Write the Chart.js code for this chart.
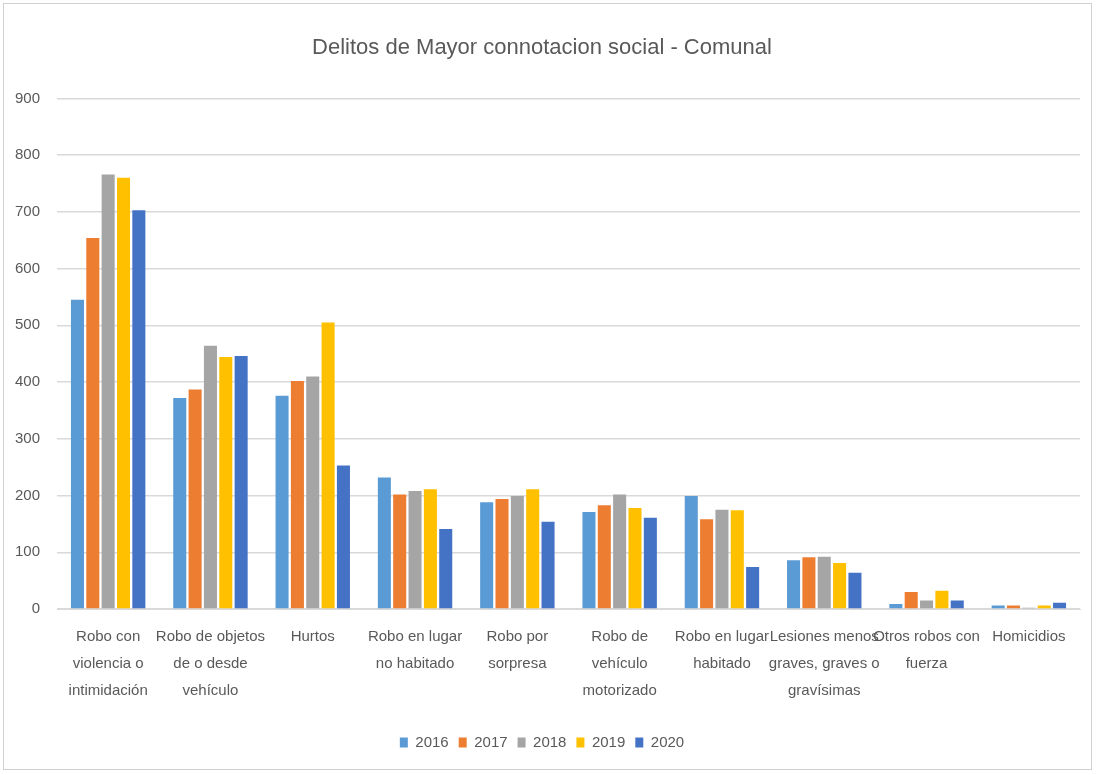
<!DOCTYPE html>
<html lang="es">
<head>
    <meta charset="UTF-8">
    <title>Delitos de Mayor connotacion social - Comunal</title>
    <script src="https://cdn.jsdelivr.net/npm/chart.js"></script>
    <style>
        body {
            margin: 0;
            background: #fff;
        }
        #frame {
            position: absolute;
            left: 3px;
            top: 3px;
            width: 1087px;
            height: 765px;
            border: 1px solid #d0d0d0;
        }
    </style>
</head>
<body>
    <div id="frame"><canvas id="chart" width="1087" height="765"></canvas></div>
    <script>
        const categories = [
            ['Robo con', 'violencia o', 'intimidación'],
            ['Robo de objetos', 'de o desde', 'vehículo'],
            ['Hurtos'],
            ['Robo en lugar', 'no habitado'],
            ['Robo por', 'sorpresa'],
            ['Robo de', 'vehículo', 'motorizado'],
            ['Robo en lugar', 'habitado'],
            ['Lesiones menos', 'graves, graves o', 'gravísimas'],
            ['Otros robos con', 'fuerza'],
            ['Homicidios']
        ];
        const years = ['2016', '2017', '2018', '2019', '2020'];
        const v2016 = [545, 372, 376, 232, 188, 171, 199, 86, 9, 6];
        const v2017 = [654, 387, 402, 202, 194, 183, 158, 91, 30, 6];
        const v2018 = [766, 464, 410, 208, 199, 202, 175, 92, 15, 2];
        const v2019 = [760, 444, 505, 211, 211, 178, 174, 81, 32, 6];
        const v2020 = [703, 446, 253, 141, 154, 161, 74, 64, 15, 11];
        const colors = ['#5B9BD5', '#ED7D31', '#A5A5A5', '#FFC000', '#4472C4'];

        const series = [v2016, v2017, v2018, v2019, v2020];
        const font = "'Liberation Sans Narrow', 'Liberation Sans', sans-serif";
        const grey = '#595959';

        new Chart(document.getElementById('chart'), {
            type: 'bar',
            data: {
                labels: categories,
                datasets: series.map((d, i) => ({
                    label: years[i],
                    data: d,
                    backgroundColor: colors[i],
                    barPercentage: 0.85,
                    categoryPercentage: 0.75
                }))
            },
            options: {
                responsive: false,
                animation: false,
                layout: { padding: { left: 0, right: 11, top: 0, bottom: 9 } },
                plugins: {
                    title: {
                        display: true,
                        text: 'Delitos de Mayor connotacion social - Comunal',
                        color: grey,
                        font: { family: font, size: 22, weight: 'normal' },
                        padding: { top: 31, bottom: 37 }
                    },
                    legend: {
                        position: 'bottom',
                        labels: {
                            color: grey,
                            font: { family: font, size: 15 },
                            boxWidth: 8,
                            boxHeight: 10,
                            padding: 10
                        }
                    },
                    tooltip: { enabled: false }
                },
                scales: {
                    x: {
                        grid: { display: false, drawTicks: false },
                        border: { color: '#d9d9d9' },
                        ticks: {
                            color: grey,
                            autoSkip: false,
                            maxRotation: 0,
                            padding: 14,
                            font: { family: font, size: 15, lineHeight: 1.8 }
                        },
                        afterFit: s => { s.height = 116; }
                    },
                    y: {
                        min: 0,
                        max: 900,
                        grid: { color: '#d9d9d9', drawTicks: false, lineWidth: 1.5 },
                        border: { display: false },
                        ticks: {
                            stepSize: 100,
                            color: grey,
                            padding: 17,
                            font: { family: font, size: 15 }
                        },
                        afterFit: s => { s.width = 53; }
                    }
                }
            }
        });
    </script>
</body>
</html>
